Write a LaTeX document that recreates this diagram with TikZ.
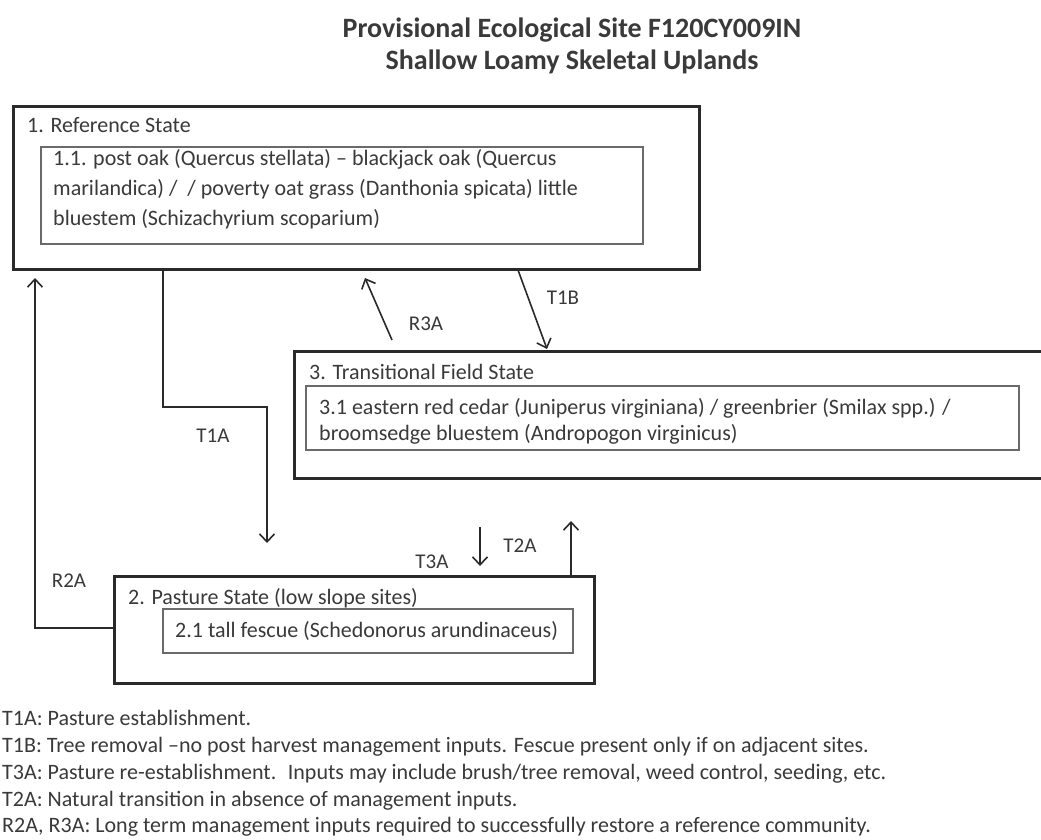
\documentclass[tikz,border=0pt]{standalone}
\usepackage{fontspec}
\setmainfont{Carlito}
\usetikzlibrary{arrows.meta}
\definecolor{ink}{HTML}{2A2A2A}
\definecolor{innerc}{HTML}{6A6A6A}
\definecolor{txt}{HTML}{3A3A3A}
\begin{document}
\begin{tikzpicture}[x=1pt,y=-1pt,
  outerbox/.style={draw=ink,line width=2.6pt,anchor=north west,inner sep=0pt},
  innerbox/.style={draw=innerc,line width=1.8pt,anchor=north west,inner sep=0pt},
  lbl/.style={text=txt,font=\fontsize{22}{30}\selectfont,anchor=base west,inner sep=0pt},
  tag/.style={text=txt,font=\fontsize{21}{26}\selectfont,anchor=base,inner sep=0pt},
  arr/.style={draw=ink,line width=1.6pt,-{Straight Barb[length=8pt,width=15pt,line width=1.6pt]}},
  leg/.style={text=txt,font=\fontsize{22}{27}\selectfont,anchor=base west,inner sep=0pt},
  ttl/.style={text=txt,font=\bfseries\fontsize{28}{32}\selectfont,anchor=base,inner sep=0pt}]
\useasboundingbox[fill=white] (0,0) rectangle (1041,839);
% title
\node[ttl] (title1) at (572,37) {Provisional Ecological Site F120CY009IN};
\node[ttl] (title2) at (572,69) {Shallow Loamy Skeletal Uplands};
% state 1
\node[outerbox,minimum width=686pt,minimum height=163pt] (s1) at (12,105) {};
\node[lbl] (s1l) at (27,132) {1. Reference State};
\node[innerbox,minimum width=602pt,minimum height=97pt] (c11) at (40,146) {};
\node[lbl,align=left] (c11t) at (53,225) {1.1. post oak (Quercus stellata) – blackjack oak (Quercus\\marilandica) /~~/ poverty oat grass (Danthonia spicata) little\\bluestem (Schizachyrium scoparium)};
% state 3
\node[outerbox,minimum width=770pt,minimum height=127pt] (s3) at (293,350) {};
\node[lbl] (s3l) at (309,379) {3. Transitional Field State};
\node[innerbox,minimum width=713pt,minimum height=64pt] (c31) at (305,385) {};
\node[lbl,align=left,font=\fontsize{22}{26}\selectfont] (c31t) at (319,440) {3.1 eastern red cedar (Juniperus virginiana) / greenbrier (Smilax spp.) /\\broomsedge bluestem (Andropogon virginicus)};
% state 2
\node[outerbox,minimum width=480pt,minimum height=107pt] (s2) at (113,575) {};
\node[lbl] (s2l) at (128,604) {2. Pasture State (low slope sites)};
\node[innerbox,minimum width=410pt,minimum height=44pt] (c21) at (162,608) {};
\node[lbl] (c21t) at (175,637) {2.1 tall fescue (Schedonorus arundinaceus)};
% coordinates
\coordinate (t1aX) at (163,0);
\coordinate (t1aK) at (267,407);
\coordinate (t1aE) at (267,543);
\coordinate (r2aY) at (0,628);
\coordinate (r2aE) at (35,278);
\coordinate (r3aS) at (392,340);
\coordinate (r3aE) at (365,278);
\coordinate (t1bS) at (518,270);
\coordinate (t1bE) at (547,349);
\coordinate (t3aS) at (480,527);
\coordinate (t3aE) at (480,566);
\coordinate (t2aX) at (571,0);
\coordinate (t2aE) at (571,521);
% arrows
\draw[arr] (s1.south -| t1aX) |- (t1aK) -- (t1aE);
\draw[arr] (s2.west |- r2aY) -| (r2aE);
\draw[arr] (r3aS) -- (r3aE);
\draw[arr] (t1bS) -- (t1bE);
\draw[arr] (t3aS) -- (t3aE);
\draw[arr] (s2.north -| t2aX) -- (t2aE);
% labels
\node[tag] (lt1a) at (213,442) {T1A};
\node[tag] (lr2a) at (69,587) {R2A};
\node[tag] (lr3a) at (426,330) {R3A};
\node[tag] (lt1b) at (563,304) {T1B};
\node[tag] (lt3a) at (432,568) {T3A};
\node[tag] (lt2a) at (520,552) {T2A};
% legend
\node[leg] (g1) at (2,725) {T1A: Pasture establishment.};
\node[leg] (g2) at (2,752) {T1B: Tree removal –no post harvest management inputs. Fescue present only if on adjacent sites.};
\node[leg] (g3) at (2,779) {T3A: Pasture re-establishment.~ Inputs may include brush/tree removal, weed control, seeding, etc.};
\node[leg] (g4) at (2,806) {T2A: Natural transition in absence of management inputs.};
\node[leg] (g5) at (2,832) {R2A, R3A: Long term management inputs required to successfully restore a reference community.};
\end{tikzpicture}
\end{document}
